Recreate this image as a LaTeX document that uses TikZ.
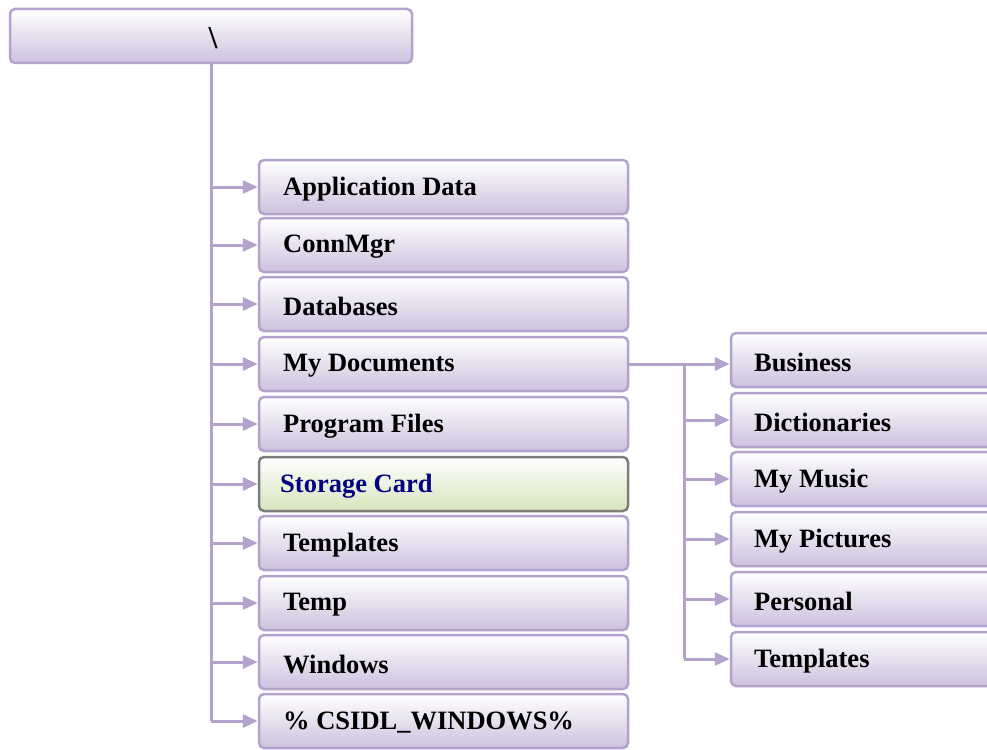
\documentclass[tikz,border=0pt]{standalone}
\usepackage{fontspec}
\setmainfont{Liberation Serif}
\usetikzlibrary{arrows.meta,calc}
\definecolor{lbord}{RGB}{178,162,204}
\definecolor{lbot}{RGB}{204,193,222}
\definecolor{gbord}{RGB}{125,125,125}
\definecolor{gbot}{RGB}{214,228,188}
\definecolor{navy}{RGB}{0,0,128}
\tikzset{
  x=1pt,y=1pt,
  box/.style={draw=lbord,line width=2.5pt,rounded corners=5pt,top color=white,bottom color=lbot,minimum height=54pt,inner sep=0pt},
  gbox/.style={box,draw=gbord,bottom color=gbot},
  lbl/.style={anchor=west,inner sep=0pt,yshift=-2pt,font=\fontsize{26.5}{30}\selectfont\bfseries},
  conn/.style={draw=lbord,line width=3pt},
  arr/.style={conn,-{Triangle[length=15pt,width=13pt]}}
}
\begin{document}
\begin{tikzpicture}
\useasboundingbox (0,0) rectangle (987,-749);
% root
\node[box,minimum width=402pt] (root) at (211,-36) {};
\node[inner sep=0pt,font=\fontsize{32}{36}\selectfont\bfseries] (rootl) at (213,-38) {\textbackslash};
% left column
\foreach \n/\y/\t in {b1/187/Application Data,b2/245/ConnMgr,b3/304/Databases,b4/364/My Documents,b5/424/Program Files,b7/543/Templates,b8/603/Temp,b9/662/Windows,b10/721/\% CSIDL\_WINDOWS\%}{
  \node[box,minimum width=369pt] (\n) at (443.5,-\y) {};
  \node[lbl] (\n l) at (283,-\y) {\t};
}
\node[gbox,minimum width=369pt] (b6) at (443.5,-484) {};
\node[lbl,text=navy] (b6l) at (280,-484) {Storage Card};
% right column
\foreach \n/\y/\t in {c1/360/Business,c2/420/Dictionaries,c3/479/My Music,c4/539/My Pictures,c5/599/Personal,c6/659/Templates}{
  \node[box,minimum width=280pt] (\n) at (871,-\y) {};
  \node[lbl] (\n l) at (754,-\y) {\t};
}
% trunk
\draw[conn] (root.south) -- (root.south |- b10.west);
\foreach \n in {b1,b2,b3,b4,b5,b6,b7,b8,b9,b10}{
  \draw[arr] (root.south |- \n.west) -- (\n.west);
}
% my documents branch
\coordinate (br) at ($(b4.east)+(55,0)$);
\draw[conn] (b4.east) -- (br) -- (br |- c6.west);
\draw[arr] (br) -- (br -| c1.west);
\foreach \n in {c2,c3,c4,c5,c6}{
  \draw[arr] (br |- \n.west) -- (\n.west);
}
\end{tikzpicture}
\end{document}
